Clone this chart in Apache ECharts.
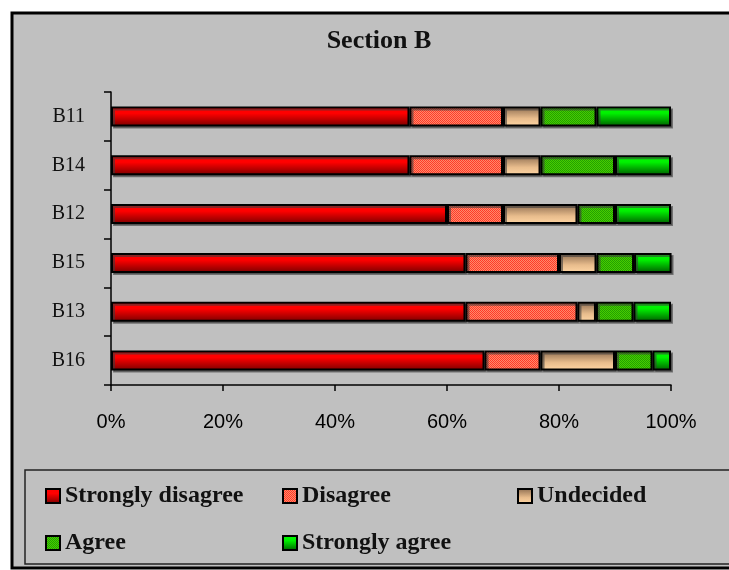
<!DOCTYPE html>
<html>
<head>
<meta charset="utf-8">
<script src="https://cdn.jsdelivr.net/npm/echarts@6/dist/echarts.min.js"></script>
<style>
html,body{margin:0;padding:0;background:#fff;}
#chart{width:729px;height:570px;}
</style>
</head>
<body>
<div id="chart"></div>
<script>
// Data (percent of respondents)
var categories = ['B11', 'B14', 'B12', 'B15', 'B13', 'B16'];
var seriesNames = ['Strongly disagree', 'Disagree', 'Undecided', 'Agree', 'Strongly agree'];
var stronglyDisagree = [53.3, 53.3, 60.0, 63.3, 63.3, 66.7];
var disagree         = [16.7, 16.7, 10.0, 16.7, 20.0, 10.0];
var undecided        = [6.7, 6.7, 13.3, 6.7, 3.3, 13.3];
var agree            = [10.0, 13.3, 6.7, 6.7, 6.7, 6.7];
var stronglyAgree    = [13.3, 10.0, 10.0, 6.7, 6.7, 3.3];
var xTickValues = [0, 20, 40, 60, 80, 100];

function checker(c1, c2) {
  var cv = document.createElement('canvas');
  cv.width = 2; cv.height = 2;
  var ctx = cv.getContext('2d');
  ctx.fillStyle = c1; ctx.fillRect(0, 0, 2, 2);
  ctx.fillStyle = c2; ctx.fillRect(0, 0, 1, 1); ctx.fillRect(1, 1, 1, 1);
  return {image: cv, repeat: 'repeat'};
}
function vgrad(stops) {
  return {type: 'linear', x: 0, y: 0, x2: 0, y2: 1,
    colorStops: stops.map(function (s) { return {offset: s[0], color: s[1]}; })};
}

var fills = [
  vgrad([[0, '#ff0000'], [0.35, '#ff0000'], [1, '#780000']]),
  checker('#ff8a6a', '#ff3a2a'),
  vgrad([[0, '#8a6a4e'], [0.6, '#e8bc8c'], [1, '#ffd6a4']]),
  checker('#48cc00', '#22a000'),
  vgrad([[0, '#00ff00'], [0.35, '#00f000'], [1, '#005c00']])
];
var values = [stronglyDisagree, disagree, undecided, agree, stronglyAgree];

var series = seriesNames.map(function (name, i) {
  return {
    name: name,
    type: 'bar',
    stack: 'total',
    barWidth: 20,
    data: values[i],
    itemStyle: {
      color: fills[i],
      borderColor: '#000',
      borderWidth: 2,
      shadowColor: 'rgba(60,60,60,0.6)',
      shadowOffsetX: 2,
      shadowOffsetY: 2,
      shadowBlur: 0
    },
    emphasis: {disabled: true}
  };
});

var legendText = {fontFamily: 'Liberation Serif', fontWeight: 'bold', fontSize: 24, color: '#111'};
var legendPos = [[45, 484], [282, 484], [517, 484], [45, 531], [282, 531]];
var legends = seriesNames.map(function (name, i) {
  return {
    data: [name], left: legendPos[i][0], top: legendPos[i][1],
    itemWidth: 14, itemHeight: 14, itemGap: 0, padding: 0,
    icon: 'rect', textStyle: legendText,
    itemStyle: {borderColor: '#000', borderWidth: 2},
    selectedMode: false
  };
});

var chart = echarts.init(document.getElementById('chart'), null, {renderer: 'canvas'});
chart.setOption({
  animation: false,
  backgroundColor: '#ffffff',
  graphic: [
    {type: 'rect', z: -10, shape: {x: 12, y: 13, width: 740, height: 555},
      style: {fill: '#c0c0c0', stroke: '#000', lineWidth: 3}},
    {type: 'rect', z: -9, shape: {x: 25, y: 470, width: 720, height: 94},
      style: {fill: 'none', stroke: '#222', lineWidth: 1.5}}
  ],
  title: {
    text: 'Section B',
    left: 374, top: 23, textAlign: 'center',
    textStyle: {fontFamily: 'Liberation Serif', fontWeight: 'bold', fontSize: 26, color: '#111'}
  },
  legend: legends,
  grid: {left: 111, right: 58, top: 92, bottom: 185, containLabel: false},
  xAxis: {
    type: 'value', min: 0, max: 100, interval: 20,
    axisLine: {show: true, lineStyle: {color: '#000', width: 1.5}},
    axisTick: {show: true, length: 6, lineStyle: {color: '#000', width: 1.5}},
    splitLine: {show: false},
    axisLabel: {
      margin: 27, color: '#000', fontFamily: 'Liberation Sans', fontSize: 20,
      formatter: function (v) { return xTickValues.indexOf(v) >= 0 ? v + '%' : ''; }
    }
  },
  yAxis: {
    type: 'category', data: categories, inverse: true,
    axisLine: {show: true, lineStyle: {color: '#000', width: 1.5}},
    axisTick: {show: true, length: 7, lineStyle: {color: '#000', width: 1.5}},
    axisLabel: {margin: 26, color: '#111', fontFamily: 'Liberation Serif', fontSize: 20}
  },
  series: series
});
</script>
</body>
</html>
